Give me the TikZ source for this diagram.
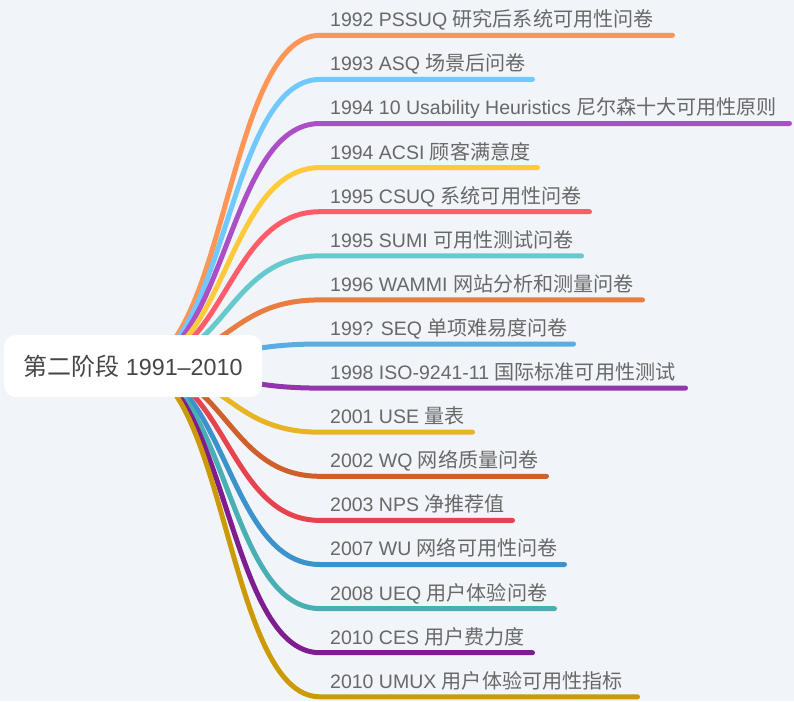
\documentclass[tikz,border=0pt]{standalone}
\usepackage{fontspec}
\setmainfont{Liberation Sans}
\newfontfamily\cjk{Noto Sans CJK SC}[Scale=1.03]
\newcommand\zh[1]{{\cjk #1}}
\definecolor{bg}{HTML}{F1F4F8}
\definecolor{labelgray}{HTML}{686868}
\definecolor{rootgray}{HTML}{464646}
\definecolor{c1}{HTML}{FF9656}
\definecolor{c2}{HTML}{70C8FF}
\definecolor{c3}{HTML}{AC4FC6}
\definecolor{c4}{HTML}{FFCA3A}
\definecolor{c5}{HTML}{FF5C6A}
\definecolor{c6}{HTML}{66C9CD}
\definecolor{c7}{HTML}{E97C40}
\definecolor{c8}{HTML}{5AADE4}
\definecolor{c9}{HTML}{9535AE}
\definecolor{c10}{HTML}{E8B424}
\definecolor{c11}{HTML}{D0602A}
\definecolor{c12}{HTML}{E7434F}
\definecolor{c13}{HTML}{3C93CC}
\definecolor{c14}{HTML}{4AAFB3}
\definecolor{c15}{HTML}{7D1D90}
\definecolor{c16}{HTML}{CC9A06}
\begin{document}
\begin{tikzpicture}[x=1pt,y=-1pt,
  branch/.style={line width=5pt, line cap=round},
  lbl/.style={anchor=base west, inner sep=0pt, text=labelgray, font=\fontsize{19.5}{22}\selectfont},
  rootbox/.style={fill=white, rounded corners=12pt, minimum width=258pt, minimum height=62pt, inner sep=0pt, text=rootgray, font=\fontsize{23.3}{28}\selectfont}]
\path[use as bounding box, fill=bg] (0,0) rectangle (794,701);
\coordinate (rootc) at (133,366);
\coordinate (mid) at (226.5,0);
\foreach \i/\e/\t in {
  1/675/{1992 PSSUQ \zh{研究后系统可用性问卷}},
  2/535/{1993 ASQ \zh{场景后问卷}},
  3/792/{1994 10 Usability Heuristics \zh{尼尔森十大可用性原则}},
  4/540/{1994 ACSI \zh{顾客满意度}},
  5/592/{1995 CSUQ \zh{系统可用性问卷}},
  6/584/{1995 SUMI \zh{可用性测试问卷}},
  7/645/{1996 WAMMI \zh{网站分析和测量问卷}},
  8/576/{199? SEQ \zh{单项难易度问卷}},
  9/688/{1998 ISO-9241-11 \zh{国际标准可用性测试}},
  10/475/{2001 USE \zh{量表}},
  11/549/{2002 WQ \zh{网络质量问卷}},
  12/515/{2003 NPS \zh{净推荐值}},
  13/567/{2007 WU \zh{网络可用性问卷}},
  14/557/{2008 UEQ \zh{用户体验问卷}},
  15/535/{2010 CES \zh{用户费力度}},
  16/640/{2010 UMUX \zh{用户体验可用性指标}}}{
  \pgfmathsetmacro\yy{35.3+44.1*(\i-1)}
  \pgfmathsetmacro\ee{\e-2.5}
  \coordinate (s\i) at (320,\yy);
  \coordinate (e\i) at (\ee,\yy);
  \draw[branch, draw=c\i] (rootc) .. controls (mid |- rootc) and (mid |- s\i) .. (s\i) -- (e\i);
  \node[lbl] (l\i) at (330,\yy-8.6) {\t};
}
\node[rootbox] (root) at (rootc) {\zh{第二阶段} 1991–2010};
\end{tikzpicture}
\end{document}
